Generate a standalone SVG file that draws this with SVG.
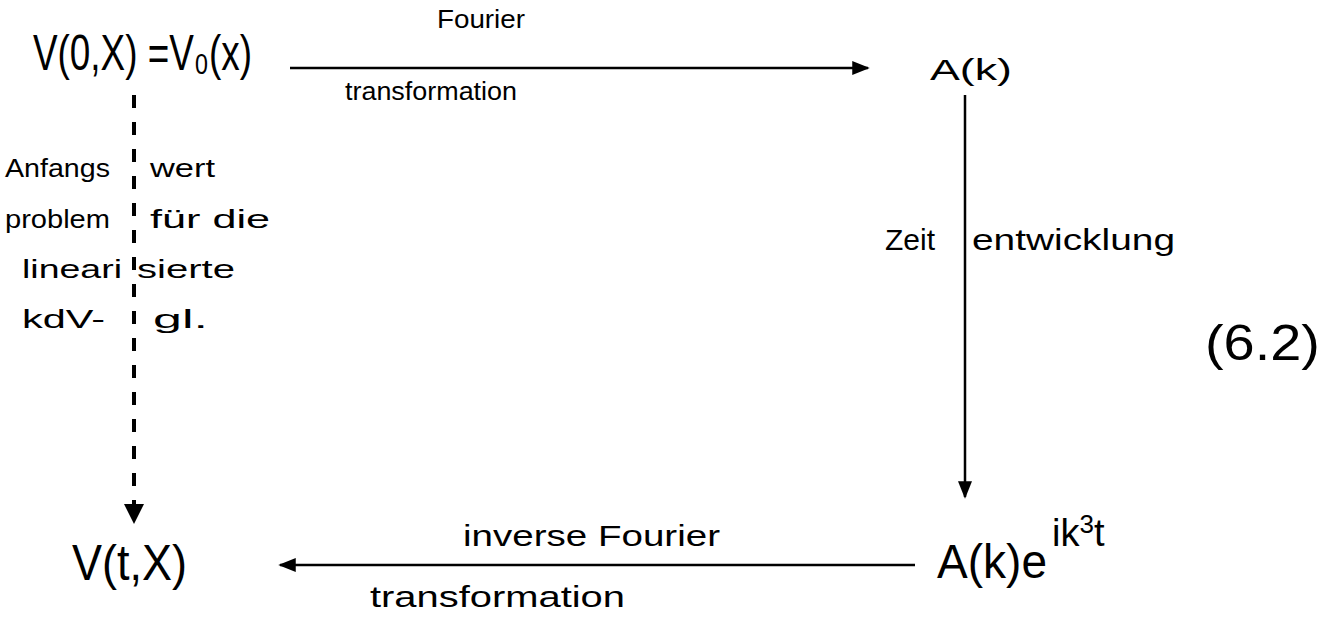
<svg xmlns="http://www.w3.org/2000/svg" width="1331" height="620" viewBox="0 0 1331 620">
  <style>
    text { font-family: "Liberation Sans", "DejaVu Sans", sans-serif; fill: #000; }
    .big { font-size: 50px; }
    .mid { font-size: 30px; }
    .sm { font-size: 26px; }
    .line { stroke: #000; stroke-width: 2.5; fill: none; }
    .dash { stroke: #000; stroke-width: 4; stroke-dasharray: 13 14; fill: none; }
  </style>
  <defs>
    <marker id="ah" viewBox="0 0 10 10" refX="9" refY="5" markerWidth="7" markerHeight="7" orient="auto" markerUnits="strokeWidth">
      <path d="M0,1 L10,5 L0,9 Z" fill="#000"/>
    </marker>
    <marker id="ahd" viewBox="0 0 10 10" refX="9" refY="5" markerWidth="5" markerHeight="5" orient="auto" markerUnits="strokeWidth">
      <path d="M0,0 L10,5 L0,10 Z" fill="#000"/>
    </marker>
  </defs>

  <g id="connectors">
    <line class="line" x1="290" y1="68" x2="868" y2="68" marker-end="url(#ah)"/>
    <line class="line" x1="965" y1="95" x2="965" y2="497" marker-end="url(#ah)"/>
    <line class="line" x1="915" y1="565" x2="280" y2="565" marker-end="url(#ah)"/>
    <line class="dash" x1="134" y1="95" x2="134" y2="522" marker-end="url(#ahd)"/>
  </g>

  <g id="node-v0">
    <text class="big" x="33" y="70" textLength="219" lengthAdjust="spacingAndGlyphs">V(0,X) =V₀(x)</text>
  </g>
  <g id="node-ak">
    <text class="mid" x="930" y="80" textLength="82" lengthAdjust="spacingAndGlyphs">A(k)</text>
  </g>
  <g id="node-akexp">
    <text x="937" y="578" font-size="48" textLength="110" lengthAdjust="spacingAndGlyphs">A(k)e</text>
    <text x="1052" y="546" font-size="38">ik<tspan font-size="26" dy="-13">3</tspan><tspan dy="13">t</tspan></text>
  </g>
  <g id="node-vt">
    <text class="big" x="72" y="580" textLength="115" lengthAdjust="spacingAndGlyphs">V(t,X)</text>
  </g>

  <g id="label-fourier">
    <text class="sm" x="437" y="28" textLength="88" lengthAdjust="spacingAndGlyphs">Fourier</text>
    <text class="sm" x="345" y="100" textLength="172" lengthAdjust="spacingAndGlyphs">transformation</text>
  </g>
  <g id="label-zeit">
    <text class="mid" x="885" y="250" textLength="50" lengthAdjust="spacingAndGlyphs">Zeit</text>
    <text class="mid" x="972" y="250" textLength="203" lengthAdjust="spacingAndGlyphs">entwicklung</text>
  </g>
  <g id="label-inverse">
    <text class="mid" x="463" y="546" textLength="257" lengthAdjust="spacingAndGlyphs">inverse Fourier</text>
    <text class="mid" x="370" y="607" textLength="255" lengthAdjust="spacingAndGlyphs">transformation</text>
  </g>
  <g id="label-anfangs">
    <text class="sm" x="5" y="177" textLength="105" lengthAdjust="spacingAndGlyphs">Anfangs</text>
    <text class="sm" x="150" y="177" textLength="65" lengthAdjust="spacingAndGlyphs">wert</text>
    <text class="sm" x="5" y="228" textLength="105" lengthAdjust="spacingAndGlyphs">problem</text>
    <text class="sm" x="150" y="228" textLength="120" lengthAdjust="spacingAndGlyphs">für die</text>
    <text class="sm" x="22" y="278" textLength="100" lengthAdjust="spacingAndGlyphs">lineari</text>
    <text class="sm" x="137" y="278" textLength="98" lengthAdjust="spacingAndGlyphs">sierte</text>
    <text class="sm" x="22" y="328" textLength="83" lengthAdjust="spacingAndGlyphs">kdV-</text>
    <text class="sm" x="153" y="328" textLength="55" lengthAdjust="spacingAndGlyphs">gl.</text>
  </g>
  <g id="label-eq">
    <text class="big" x="1205" y="360" textLength="115" lengthAdjust="spacingAndGlyphs">(6.2)</text>
  </g>
</svg>
